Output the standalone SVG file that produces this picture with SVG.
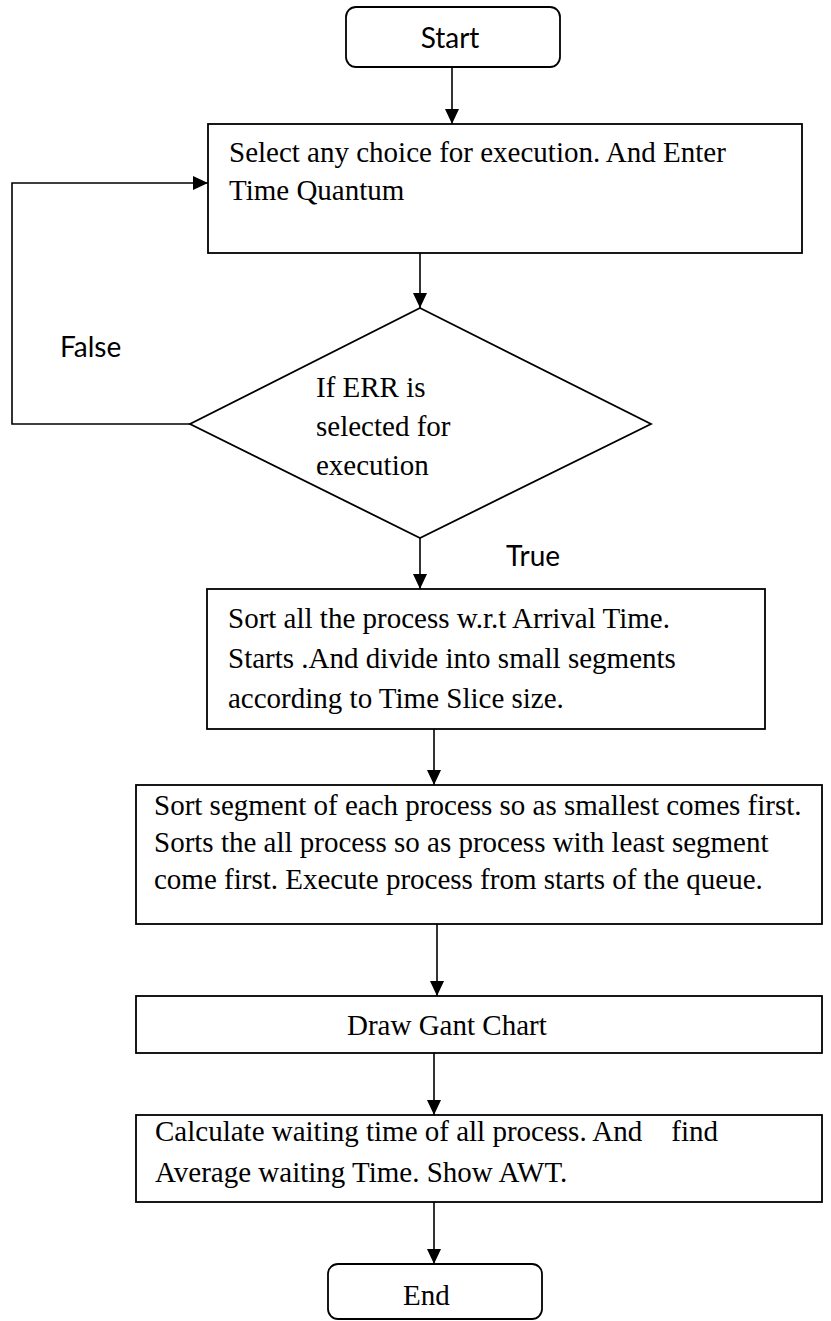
<svg xmlns="http://www.w3.org/2000/svg" width="831" height="1321" viewBox="0 0 831 1321">
  <style>
    .box { fill: #ffffff; stroke: #000000; stroke-width: 1.8; }
    .edge { fill: none; stroke: #000000; stroke-width: 1.6; }
    .serif { font-family: "Liberation Serif", "Times New Roman", serif; font-size: 29px; fill: #000000; }
    .sans { font-family: Lato, "Liberation Sans", sans-serif; font-size: 28px; fill: #000000; }
  </style>
  <defs>
    <marker id="arrow" viewBox="0 0 10 10" refX="10" refY="5" markerUnits="userSpaceOnUse" markerWidth="15" markerHeight="14" orient="auto" preserveAspectRatio="none">
      <path d="M0,0 L10,5 L0,10 z" fill="#000000"/>
    </marker>
  </defs>
  <rect width="831" height="1321" fill="#ffffff"/>

  <!-- connectors and branch labels -->
  <g id="connectors">
    <line class="edge" x1="452" y1="67" x2="452" y2="124" marker-end="url(#arrow)"/>
    <line class="edge" x1="420" y1="253" x2="420" y2="308" marker-end="url(#arrow)"/>
    <polyline class="edge" points="190,424 12,424 12,183 208,183" marker-end="url(#arrow)"/>
    <line class="edge" x1="420" y1="538" x2="420" y2="589" marker-end="url(#arrow)"/>
    <line class="edge" x1="434" y1="729" x2="434" y2="785" marker-end="url(#arrow)"/>
    <line class="edge" x1="437" y1="924" x2="437" y2="996" marker-end="url(#arrow)"/>
    <line class="edge" x1="434" y1="1053" x2="434" y2="1115" marker-end="url(#arrow)"/>
    <line class="edge" x1="434" y1="1202" x2="434" y2="1264" marker-end="url(#arrow)"/>
    <text class="sans" x="60" y="357">False</text>
    <text class="sans" x="506" y="566">True</text>
  </g>

  <g id="start">
    <rect class="box" x="346" y="7" width="214" height="60" rx="10"/>
    <text class="sans" x="450" y="48" text-anchor="middle">Start</text>
  </g>

  <g id="select">
    <rect class="box" x="208" y="124" width="594" height="129"/>
    <text class="serif" x="229" y="162">Select any choice for execution. And Enter</text>
    <text class="serif" x="229" y="200">Time Quantum</text>
  </g>

  <g id="decision">
    <polygon class="box" points="420,308 651,424 420,538 190,424"/>
    <text class="serif" x="316" y="397">If ERR is</text>
    <text class="serif" x="316" y="436">selected for</text>
    <text class="serif" x="316" y="475">execution</text>
  </g>

  <g id="sort-arrival">
    <rect class="box" x="207" y="589" width="558" height="140"/>
    <text class="serif" x="228" y="628">Sort all the process w.r.t Arrival Time.</text>
    <text class="serif" x="228" y="668">Starts .And divide into small segments</text>
    <text class="serif" x="228" y="708">according to Time Slice size.</text>
  </g>

  <g id="sort-segments">
    <rect class="box" x="136" y="785" width="686" height="139"/>
    <text class="serif" x="154" y="815">Sort segment of each process so as smallest comes first.</text>
    <text class="serif" x="154" y="852">Sorts the all process so as process with least segment</text>
    <text class="serif" x="154" y="889">come first. Execute process from starts of the queue.</text>
  </g>

  <g id="gantt">
    <rect class="box" x="136" y="996" width="686" height="57"/>
    <text class="serif" x="347" y="1035">Draw Gant Chart</text>
  </g>

  <g id="waiting-time">
    <rect class="box" x="136" y="1115" width="686" height="87"/>
    <text class="serif" x="155" y="1141" xml:space="preserve">Calculate waiting time of all process. And    find</text>
    <text class="serif" x="155" y="1182">Average waiting Time. Show AWT.</text>
  </g>

  <g id="end">
    <rect class="box" x="328" y="1264" width="214" height="55" rx="10"/>
    <text class="serif" x="403" y="1305">End</text>
  </g>
</svg>
